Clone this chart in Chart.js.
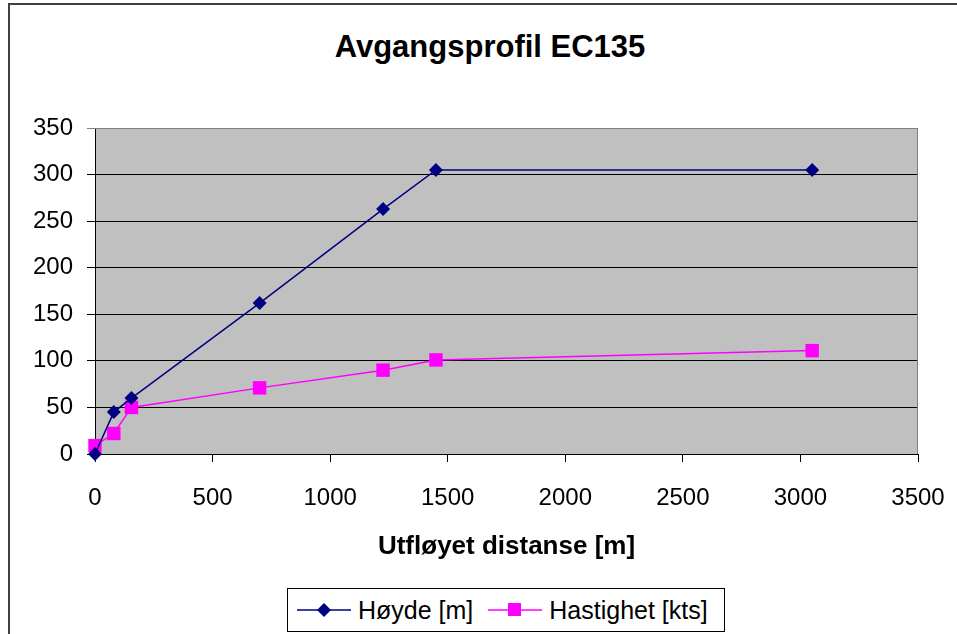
<!DOCTYPE html>
<html>
<head>
<meta charset="utf-8">
<script src="https://cdn.jsdelivr.net/npm/chart.js@4"></script>
<style>
  html, body { margin: 0; padding: 0; background: #fff; }
  #wrap { position: relative; width: 957px; height: 634px; overflow: hidden; font-family: Arial, 'Liberation Sans', sans-serif; }
  #frame { position: absolute; left: 8px; top: 3px; width: 1000px; height: 700px; border-left: 2px solid #404040; border-top: 2px solid #404040; }
  #chart { position: absolute; left: 0; top: 0; }
  #title { position: absolute; left: 0; width: 980px; top: 29px; text-align: center; font-weight: bold; font-size: 31px; line-height: 36px; color: #000; }
  #legend { position: absolute; left: 287px; top: 588px; width: 436px; height: 42px; border: 1px solid #000; background: #fff;
            display: flex; align-items: center; font-size: 25px; color: #000; }
  .item { display: flex; align-items: center; margin-left: 9px; }
  .item svg { margin-right: 7px; }
</style>
</head>
<body>
<div id="wrap">
  <div id="frame"></div>
  <div id="title">Avgangsprofil EC135</div>
  <canvas id="chart" width="957" height="634"></canvas>
  <div id="legend">
    <div class="item">
      <svg width="54" height="16"><line x1="0" y1="8" x2="54" y2="8" stroke="#000080" stroke-width="1.5"/><polygon points="27,1 34,8 27,15 20,8" fill="#000080"/></svg>
      <span>Høyde [m]</span>
    </div>
    <div class="item" style="margin-left:15px">
      <svg width="54" height="16"><line x1="0" y1="8" x2="54" y2="8" stroke="#ff00ff" stroke-width="1.5"/><rect x="20" y="1" width="13" height="13" fill="#ff00ff"/></svg>
      <span>Hastighet [kts]</span>
    </div>
  </div>
</div>
<script>
/* ---------- data ---------- */
const distHoyde = [0, 80, 155, 700, 1225, 1450, 3050];
const hoyde     = [0, 45, 60, 162, 263, 305, 305];
const distHast  = [0, 80, 155, 700, 1225, 1450, 3050];
const hastighet = [9, 22, 50, 71, 90, 101, 111];

const FONT = 'Arial, "Liberation Sans", sans-serif';

const toPoints = (xs, ys) => xs.map((x, i) => ({ x, y: ys[i] }));

/* grey plot background + border */
const plotArea = {
  id: 'plotArea',
  beforeDraw(chart) {
    const { ctx, chartArea: a } = chart;
    ctx.save();
    ctx.fillStyle = '#c0c0c0';
    ctx.fillRect(a.left, a.top, a.right - a.left, a.bottom - a.top);
    ctx.restore();
  },
  beforeDatasetsDraw(chart) {
    const { ctx, chartArea: a } = chart;
    ctx.save();
    ctx.strokeStyle = '#808080';
    ctx.lineWidth = 1;
    ctx.beginPath();
    ctx.moveTo(a.left, a.top + 0.5);
    ctx.lineTo(a.right - 0.5, a.top + 0.5);
    ctx.lineTo(a.right - 0.5, a.bottom);
    ctx.stroke();
    ctx.restore();
  },
};

new Chart(document.getElementById('chart'), {
  type: 'scatter',
  data: {
    datasets: [
      {
        label: 'Høyde [m]',
        data: toPoints(distHoyde, hoyde),
        showLine: true,
        borderColor: '#000080',
        backgroundColor: '#000080',
        borderWidth: 1.5,
        pointStyle: 'rectRot',
        pointRadius: 7,
        pointBorderWidth: 0,
        clip: false,
      },
      {
        label: 'Hastighet [kts]',
        data: toPoints(distHast, hastighet),
        showLine: true,
        borderColor: '#ff00ff',
        backgroundColor: '#ff00ff',
        borderWidth: 1.5,
        pointStyle: 'rect',
        pointRadius: 9.5,
        pointBorderWidth: 0,
        clip: false,
      },
    ],
  },
  options: {
    responsive: false,
    animation: false,
    layout: { padding: { left: 0, right: 39, top: 128, bottom: 0 } },
    plugins: {
      legend: { display: false },
      tooltip: { enabled: false },
    },
    scales: {
      x: {
        type: 'linear',
        min: 0, max: 3500,
        ticks: { stepSize: 500, color: '#000', font: { family: FONT, size: 24 }, padding: 22, maxRotation: 0,
                 callback: v => String(v) },
        grid: { drawOnChartArea: false, drawTicks: true, tickLength: 8, color: '#000' },
        border: { color: '#000' },
        title: {
          display: true,
          text: 'Utfløyet distanse [m]',
          color: '#000',
          font: { family: FONT, size: 26, weight: 'bold' },
          padding: { top: 0, bottom: 72 },
        },
        afterFit: s => { s.height = 180; s.paddingLeft = 0; s.paddingRight = 0; },
      },
      y: {
        min: 0, max: 350,
        ticks: { stepSize: 50, color: '#000', font: { family: FONT, size: 24 }, padding: 14,
                 callback: v => String(v) },
        grid: {
          tickLength: 8,
          color: c => (c.tick && c.tick.value === 350 ? '#808080' : '#000'),
        },
        border: { color: '#000' },
        afterFit: s => { s.width = 95; },
      },
    },
  },
  plugins: [plotArea],
});
</script>
</body>
</html>
